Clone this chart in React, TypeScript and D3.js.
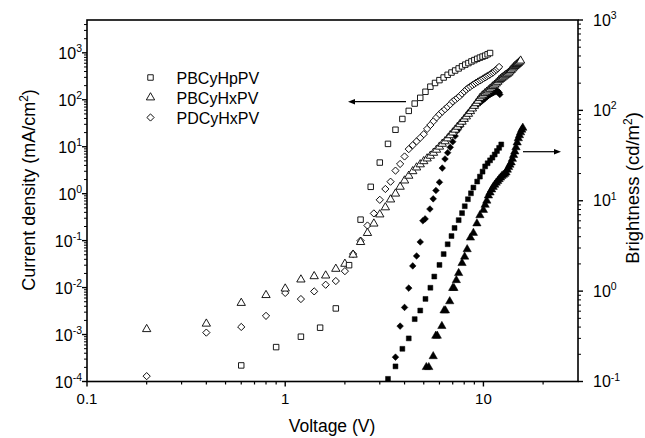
import React from 'react';
import * as d3 from 'd3';

const W = 645;
const H = 438;
const plot = { left: 87, right: 578, top: 20, bottom: 381.5 };
const font = 'Arial, "Liberation Sans", Helvetica, sans-serif';

// current density (V, mA/cm2) - open markers, left axis
const hpCurrent: [number, number][] = [
  [0.6, 2.2e-4], [0.9, 5.4e-4], [1.2, 9e-4], [1.5, 1.4e-3], [1.8, 3.6e-3], [2.1, 0.03],
  [2.4, 0.28], [2.7, 1.4], [3.0, 4.6], [3.3, 11.5], [3.6, 23], [3.9, 39], [4.2, 58],
  [4.5, 83], [4.8, 110], [5.1, 148], [5.4, 190], [5.7, 228], [6.0, 262], [6.3, 298],
  [6.6, 340], [6.9, 380], [7.2, 420], [7.5, 465], [7.8, 515], [8.1, 560], [8.4, 605],
  [8.7, 655], [9.0, 700], [9.3, 745], [9.6, 790], [9.9, 830], [10.2, 870], [10.5, 930],
  [10.8, 990],
];
const hxCurrent: [number, number][] = [
  [0.2, 1.3e-3], [0.4, 1.7e-3], [0.6, 4.7e-3], [0.8, 6.9e-3], [1.0, 9.5e-3], [1.2, 0.0148],
  [1.4, 0.0174], [1.6, 0.018], [1.8, 0.025], [2.0, 0.032], [2.2, 0.05], [2.4, 0.093],
  [2.6, 0.145], [2.8, 0.23], [3.0, 0.36], [3.2, 0.51], [3.4, 0.75], [3.6, 1.0], [3.8, 1.4],
  [4.0, 1.9], [4.2, 2.4], [4.4, 3.0], [4.6, 3.6], [4.8, 4.2], [5.0, 4.9], [5.2, 5.6],
  [5.4, 6.4], [5.6, 7.4], [5.8, 8.6], [6.0, 10], [6.2, 11.5], [6.4, 13], [6.6, 15],
  [6.8, 17.5], [7.0, 20], [7.2, 23], [7.4, 26.5], [7.6, 30], [7.8, 34], [8.0, 39], [8.2, 44],
  [8.4, 50], [8.6, 57], [8.8, 65], [9.0, 74], [9.2, 84], [9.4, 95], [9.6, 108], [9.8, 118],
  [10.0, 128], [10.2, 138], [10.4, 148], [10.6, 158], [10.8, 170], [11.0, 182], [11.2, 195],
  [11.4, 208], [11.6, 222], [11.8, 240], [12.0, 260], [12.2, 276], [12.4, 292], [12.6, 308],
  [12.8, 325], [13.0, 340], [13.2, 355], [13.4, 375], [13.6, 400], [13.8, 430], [14.0, 460],
  [14.2, 490], [14.4, 520], [14.6, 545], [14.8, 575], [15.0, 605], [15.2, 640], [15.4, 680],
];
const pdCurrent: [number, number][] = [
  [0.2, 1.3e-4], [0.4, 1.1e-3], [0.6, 1.45e-3], [0.8, 2.5e-3], [1.0, 7.7e-3], [1.2, 5.7e-3],
  [1.4, 8.3e-3], [1.6, 0.0115], [1.8, 0.0138], [2.0, 0.0224], [2.2, 0.052], [2.4, 0.1],
  [2.6, 0.21], [2.8, 0.38], [3.0, 0.74], [3.2, 1.26], [3.4, 1.8], [3.6, 3.1], [3.8, 4.3],
  [4.0, 6.2], [4.2, 8.9], [4.4, 10.8], [4.6, 13], [4.8, 15.5], [5.0, 18.5], [5.2, 24],
  [5.4, 29], [5.6, 35], [5.8, 42], [6.0, 49], [6.2, 56], [6.4, 63], [6.6, 71], [6.8, 80],
  [7.0, 92], [7.2, 100], [7.4, 110], [7.6, 120], [7.8, 135], [8.0, 150], [8.2, 165],
  [8.4, 180], [8.6, 192], [8.8, 205], [9.0, 218], [9.2, 232], [9.4, 245], [9.6, 258],
  [9.8, 270], [10.0, 285], [10.2, 300], [10.4, 315], [10.6, 330], [10.8, 345], [11.0, 365],
  [11.2, 385], [11.4, 410], [11.6, 435], [11.8, 465], [12.0, 500],
];

// brightness (V, cd/m2) - filled markers, right axis
const hpBright: [number, number][] = [
  [3.3, 0.107], [3.6, 0.147], [3.9, 0.23], [4.2, 0.3], [4.5, 0.49], [4.8, 0.61], [5.1, 0.82],
  [5.4, 1.09], [5.65, 1.45], [6.0, 1.95], [6.3, 2.57], [6.6, 3.3], [6.9, 4.07], [7.15, 5.0],
  [7.5, 6.1], [7.8, 7.3], [8.05, 8.7], [8.35, 10.4], [8.65, 12.1], [8.9, 14], [9.3, 16.3],
  [9.6, 18.5], [9.9, 21], [10.2, 24], [10.5, 26], [10.8, 28], [11.1, 30], [11.4, 32.5],
  [11.7, 35.5], [12.0, 38.5], [12.3, 42],
];
const hxBright: [number, number][] = [
  [5.15, 0.144], [5.3, 0.144], [5.58, 0.19], [5.75, 0.32], [5.85, 0.32], [6.17, 0.41],
  [6.33, 0.61], [6.43, 0.61], [6.76, 0.77], [7.0, 1.08], [7.1, 1.08], [7.3, 1.32],
  [7.5, 1.58], [7.8, 2.04], [8.04, 2.4], [8.28, 2.9], [8.6, 3.9], [8.9, 4.4], [9.27, 5.6],
  [9.6, 6.9], [10.0, 7.9], [10.2, 9.0], [10.4, 10], [10.6, 11.4], [10.8, 12.3], [11.0, 13.3],
  [11.2, 14.2], [11.4, 15], [11.6, 15.8], [11.8, 16.5], [12.0, 17.3], [12.2, 18], [12.4, 18.8],
  [12.6, 19.3], [12.8, 19.8], [13.0, 20.5], [13.2, 22], [13.4, 23.5], [13.6, 25], [13.8, 26.5],
  [14.0, 29], [14.2, 32], [14.4, 35], [14.6, 39], [14.8, 44], [15.0, 49], [15.2, 53],
  [15.4, 57], [15.6, 61], [15.8, 64],
];
const pdBright: [number, number][] = [
  [3.6, 0.186], [3.8, 0.41], [4.0, 0.66], [4.2, 1.08], [4.4, 1.9], [4.6, 2.45], [4.8, 3.5],
  [4.95, 6.0], [5.08, 6.3], [5.37, 8.1], [5.58, 10.5], [5.76, 13], [6.0, 16], [6.2, 23],
  [6.4, 29], [6.6, 34], [6.8, 39], [7.0, 45], [7.2, 52], [7.4, 60], [7.6, 66], [7.8, 72],
  [8.0, 79], [8.2, 86], [8.4, 93], [8.6, 99], [8.8, 104], [9.0, 109], [9.2, 114], [9.4, 118],
  [9.6, 122], [9.8, 126], [10.0, 131], [10.2, 136], [10.4, 141], [10.6, 146], [10.8, 150],
  [11.0, 153], [11.2, 157], [11.4, 160], [11.6, 162], [11.8, 164], [12.0, 158], [12.1, 150],
];

const legendNames = ['PBCyHpPV', 'PBCyHxPV', 'PDCyHxPV'];
const xMajor = [0.1, 1, 10];
const xMajorLabels = ['0.1', '1', '10'];
const leftExps = [-4, -3, -2, -1, 0, 1, 2, 3];
const rightExps = [-1, 0, 1, 2, 3];

const x = d3.scaleLog().domain([0.1, 30]).range([plot.left, plot.right]);
const yL = d3.scaleLog().domain([1e-4, 5000]).range([plot.bottom, plot.top]);
const yR = d3.scaleLog().domain([0.1, 1000]).range([plot.bottom, plot.top]);

// minor ticks 2..9 per decade inside a domain
const minorTicks = (lo: number, hi: number) => {
  const out: number[] = [];
  for (let e = Math.floor(Math.log10(lo)); e <= Math.ceil(Math.log10(hi)); e++) {
    for (let k = 2; k <= 9; k++) {
      const v = k * Math.pow(10, e);
      if (v > lo * 1.0001 && v < hi * 0.9999) out.push(v);
    }
  }
  return out;
};

const sq = (a: number) => d3.symbol().type(d3.symbolSquare).size(a)()!;
const tri = (a: number) => d3.symbol().type(d3.symbolTriangle).size(a)()!;

const openSquare = sq(30);
const openTri = tri(30);
const openDiamond = sq(26);
const fillSquare = sq(24);
const fillTri = tri(30);
const fillDiamond = sq(22);

type Mark = { d: string; rot: number; fill: string };
const openMarks: Mark[] = [
  { d: openSquare, rot: 0, fill: 'white' },
  { d: openTri, rot: 0, fill: 'white' },
  { d: openDiamond, rot: 45, fill: 'white' },
];

const Series = ({ data, y, mark }: { data: [number, number][]; y: any; mark: Mark }) => (
  <g>
    {data.map(([v, val], i) => (
      <path
        key={i}
        d={mark.d}
        transform={`translate(${x(v)},${y(val)}) rotate(${mark.rot})`}
        fill={mark.fill}
        stroke="#000"
        strokeWidth={mark.fill === 'white' ? 0.9 : 0.5}
      />
    ))}
  </g>
);

const Pow = ({ x: px, y: py, exp, anchor }: { x: number; y: number; exp: number; anchor: 'start' | 'end' }) => (
  <text x={px} y={py} textAnchor={anchor} fontSize={16} fontFamily={font} fill="#000">
    10<tspan fontSize={10.5} dy={-6.5}>{exp}</tspan>
  </text>
);

export default function App() {
  const xMinor = minorTicks(0.1, 30);
  const lMinor = minorTicks(1e-4, 5000);
  const rMinor = minorTicks(0.1, 1000);
  const ax = '#000';
  return (
    <svg width={W} height={H} style={{ position: 'absolute', left: 0, top: 0, background: '#fff' }}>
      <rect width={W} height={H} fill="#fff" />

      {/* series: brightness first, current on top */}
      <Series data={hpBright} y={yR} mark={{ d: fillSquare, rot: 0, fill: '#000' }} />
      <Series data={hxBright} y={yR} mark={{ d: fillTri, rot: 0, fill: '#000' }} />
      <Series data={pdBright} y={yR} mark={{ d: fillDiamond, rot: 45, fill: '#000' }} />
      <Series data={pdCurrent} y={yL} mark={openMarks[2]} />
      <Series data={hxCurrent} y={yL} mark={openMarks[1]} />
      <Series data={hpCurrent} y={yL} mark={openMarks[0]} />

      {/* frame */}
      <rect x={plot.left} y={plot.top} width={plot.right - plot.left} height={plot.bottom - plot.top}
        fill="none" stroke={ax} strokeWidth={1.6} />

      {/* x axis ticks */}
      {xMajor.map((v, i) => (
        <g key={'xm' + i}>
          <line x1={x(v)} x2={x(v)} y1={plot.bottom} y2={plot.bottom + 5} stroke={ax} strokeWidth={1.4} />
          <text x={x(v)} y={404} textAnchor="middle" fontSize={15} fontFamily={font}>{xMajorLabels[i]}</text>
        </g>
      ))}
      {xMinor.map((v, i) => (
        <line key={'xn' + i} x1={x(v)} x2={x(v)} y1={plot.bottom} y2={plot.bottom + 3} stroke={ax} strokeWidth={1.2} />
      ))}

      {/* left axis */}
      {leftExps.map((e) => (
        <g key={'lm' + e}>
          <line x1={plot.left - 5} x2={plot.left} y1={yL(Math.pow(10, e))} y2={yL(Math.pow(10, e))} stroke={ax} strokeWidth={1.4} />
          <Pow x={82} y={yL(Math.pow(10, e)) + 6} exp={e} anchor="end" />
        </g>
      ))}
      {lMinor.map((v, i) => (
        <line key={'ln' + i} x1={plot.left - 3} x2={plot.left} y1={yL(v)} y2={yL(v)} stroke={ax} strokeWidth={1} />
      ))}

      {/* right axis */}
      {rightExps.map((e) => (
        <g key={'rm' + e}>
          <line x1={plot.right} x2={plot.right + 5} y1={yR(Math.pow(10, e))} y2={yR(Math.pow(10, e))} stroke={ax} strokeWidth={1.4} />
          <Pow x={593} y={yR(Math.pow(10, e)) + 5.5} exp={e} anchor="start" />
        </g>
      ))}
      {rMinor.map((v, i) => (
        <line key={'rn' + i} x1={plot.right} x2={plot.right + 3} y1={yR(v)} y2={yR(v)} stroke={ax} strokeWidth={1} />
      ))}

      {/* axis titles */}
      <text x={332} y={432} textAnchor="middle" fontSize={17.5} fontFamily={font}>Voltage (V)</text>
      <text transform="translate(35,190) rotate(-90)" textAnchor="middle" fontSize={18} fontFamily={font}>
        Current density (mA/cm<tspan fontSize={12} dy={-7}>2</tspan><tspan dy={7}>)</tspan>
      </text>
      <text transform="translate(639,188) rotate(-90)" textAnchor="middle" fontSize={18.5} fontFamily={font}>
        Brightness (cd/m<tspan fontSize={12} dy={-7}>2</tspan><tspan dy={7}>)</tspan>
      </text>

      {/* legend */}
      {legendNames.map((name, i) => (
        <g key={name} transform={`translate(150.5,${77.5 + i * 20})`}>
          <path d={openMarks[i].d} transform={`rotate(${openMarks[i].rot})`} fill="#fff" stroke="#000" strokeWidth={0.9} />
          <text x={26} y={6} fontSize={16} fontFamily={font}>{name}</text>
        </g>
      ))}

      {/* arrows pointing to the axes */}
      <line x1={406} x2={354} y1={101.7} y2={101.7} stroke="#000" strokeWidth={1.2} />
      <path d="M348,101.7 L355,99 L355,104.4 Z" fill="#000" />
      <line x1={523} x2={555} y1={151.7} y2={151.7} stroke="#000" strokeWidth={1.2} />
      <path d="M561,151.7 L554,149 L554,154.4 Z" fill="#000" />
    </svg>
  );
}
